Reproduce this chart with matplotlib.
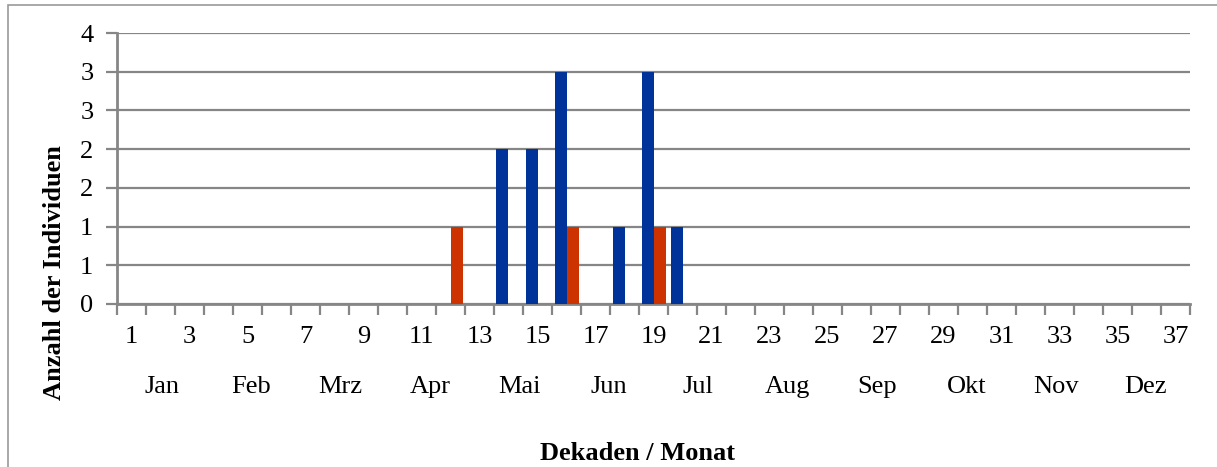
import matplotlib
matplotlib.use("Agg")
import matplotlib.pyplot as plt
from matplotlib.patches import Rectangle
import numpy as np

# Data
decades = list(range(1, 38))
blue_vals = {14: 2, 15: 2, 16: 3, 18: 1, 19: 3, 20: 1}
orange_vals = {12: 1, 16: 1, 19: 1}
series_blue = [blue_vals.get(d, 0) for d in decades]
series_orange = [orange_vals.get(d, 0) for d in decades]
month_labels = ["Jan", "Feb", "Mrz", "Apr", "Mai", "Jun", "Jul", "Aug", "Sep", "Okt", "Nov", "Dez"]
y_ticks = [0, 0.5, 1, 1.5, 2, 2.5, 3, 3.5]
y_tick_labels = ["0", "1", "1", "2", "2", "3", "3", "4"]

plt.rcParams['font.family'] = ['Liberation Serif', 'DejaVu Serif']

W, H = 1217, 467
fig = plt.figure(figsize=(W / 100, H / 100), dpi=100)
left, right, top, bottom = 117, 1190, 33, 304
ax = fig.add_axes([left / W, 1 - bottom / H, (right - left) / W, (bottom - top) / H])

BLUE = "#003399"
ORANGE = "#cc3300"
GRAY = "#868686"
FS = 19

x = np.array(decades, dtype=float)
w = 12 / 29
ax.bar(x - w / 2, series_blue, width=w, color=BLUE, zorder=3)
ax.bar(x + w / 2, series_orange, width=w, color=ORANGE, zorder=3)

ax.set_xlim(0.5, 37.5)
ax.set_ylim(0, 3.5)

# y axis
ax.set_yticks(y_ticks)
ax.set_yticklabels(y_tick_labels, fontsize=FS)
ax.yaxis.grid(True, color=GRAY, linewidth=1.6, zorder=0)
ax.tick_params(axis='y', length=8, width=1.6, color=GRAY, pad=9)

# x axis: boundary ticks (major), labels at odd decades (minor)
ax.set_xticks(np.arange(0.5, 38, 1.0))
ax.set_xticklabels([])
ax.tick_params(axis='x', which='major', length=8, width=1.6, color=GRAY)
ax.set_xticks([d for d in decades if d % 2 == 1], minor=True)
ax.set_xticklabels([str(d) for d in decades if d % 2 == 1], minor=True, fontsize=FS)
ax.tick_params(axis='x', which='minor', length=0, pad=16)

for s in ['top', 'right']:
    ax.spines[s].set_visible(False)
for s in ['left', 'bottom']:
    ax.spines[s].set_color(GRAY)
    ax.spines[s].set_linewidth(2)

# month labels
trans = ax.get_xaxis_transform()
for m, lab in enumerate(month_labels):
    xc = 0.5 + (m + 0.5) * 37 / 12
    ax.text(xc, 1 - (387 - top) / (bottom - top), lab, transform=trans, ha='center', va='center', fontsize=FS)

# axis titles
fig.text(55 / W, 1 - 273 / H, "Anzahl der Individuen", rotation=90, ha='center', va='center',
         fontsize=FS, fontweight='bold')
fig.text(638 / W, 1 - 453 / H, "Dekaden / Monat", ha='center', va='center', fontsize=FS, fontweight='bold')

# chart border (left and top edges visible)
fig.patches.append(Rectangle((8 / W, -0.05), 1.1, 1.05 - 5 / H, transform=fig.transFigure,
                             fill=False, edgecolor="#999999", linewidth=1.2))

fig.savefig("out.png", dpi=100)
